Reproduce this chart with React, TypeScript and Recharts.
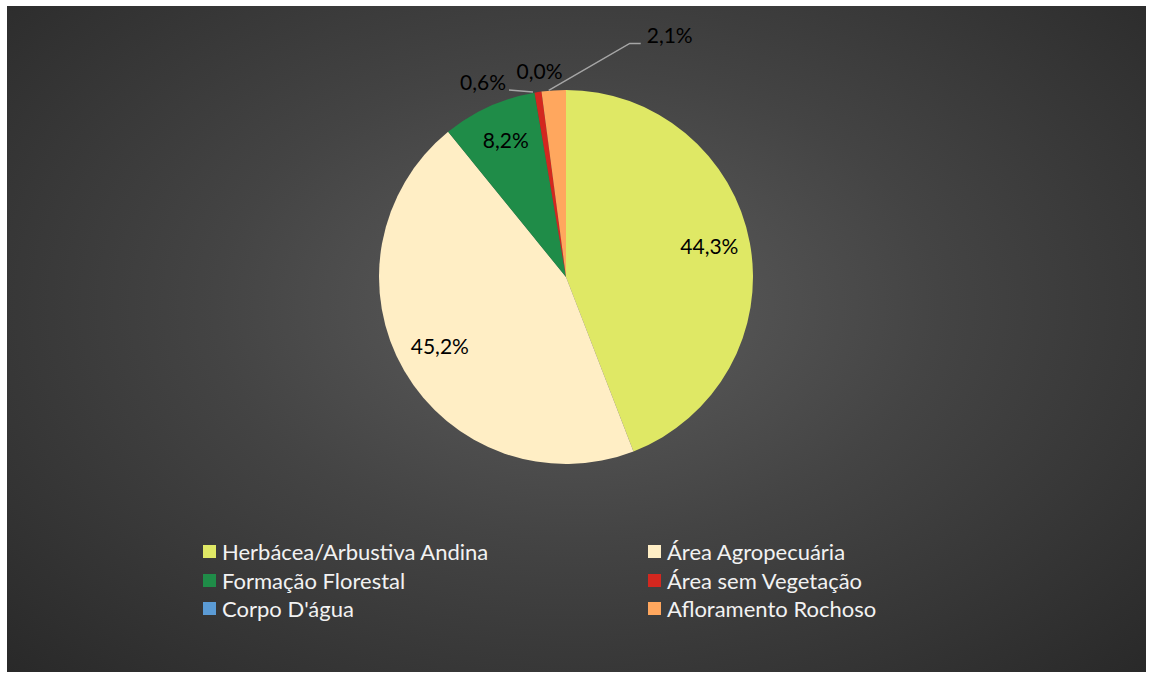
import { PieChart, Pie, Cell, Legend } from 'recharts';

// categories and their shares (%)
const categories = [
  'Herbácea/Arbustiva Andina',
  'Área Agropecuária',
  'Formação Florestal',
  'Área sem Vegetação',
  "Corpo D'água",
  'Afloramento Rochoso',
];
const shares = [44.3, 45.2, 8.2, 0.6, 0.0, 2.1];

const colors = ['#DFE865', '#FFEEC5', '#1F8C48', '#D3271F', '#5B9BD5', '#FFA75E'];

// outside label placement for the thin slices (offsets from the slice rim)
const outsideLabels: Record<string, { tx: number; ty: number; anchor: string; line?: number[][] }> = {
  'Área sem Vegetação': { tx: -32, ty: -11, anchor: 'end', line: [[-5, 0], [-29, -2]] },
  "Corpo D'água": { tx: -2, ty: -21, anchor: 'middle' },
  'Afloramento Rochoso': { tx: 93, ty: -56, anchor: 'start', line: [[-5, 0], [76, -47], [87, -47]] },
};

const chartData = categories.map((name, i) => ({ name, value: shares[i] }));

const FONT = 'Lato, "Open Sans", sans-serif';
const RAD = Math.PI / 180;

const fmt = (v: number) => v.toFixed(1).replace('.', ',') + '%';

const renderLabel = (props: any) => {
  const { cx, cy, midAngle, outerRadius, index } = props;
  const name = categories[index];
  const value = shares[index];
  const place = outsideLabels[name];
  if (!place) {
    const r = outerRadius * 0.78;
    const x = cx + r * Math.cos(midAngle * RAD);
    const y = cy - r * Math.sin(midAngle * RAD) - 5;
    return (
      <text key={`lbl-${index}`} x={x} y={y} textAnchor="middle" dominantBaseline="central"
        fill="#000" fontSize={21} fontFamily={FONT}>
        {fmt(value)}
      </text>
    );
  }
  const ox = cx + outerRadius * Math.cos(midAngle * RAD);
  const oy = cy - outerRadius * Math.sin(midAngle * RAD);
  return (
    <g key={`lbl-${index}`}>
      {place.line && (
        <polyline
          points={place.line.map(([dx, dy]) => `${ox + dx},${oy + dy}`).join(' ')}
          fill="none" stroke="#A6A6A6" strokeWidth={1.5}
        />
      )}
      <text x={ox + place.tx} y={oy + place.ty} textAnchor={place.anchor as any} dominantBaseline="central"
        fill="#000" fontSize={21} fontFamily={FONT}>
        {fmt(value)}
      </text>
    </g>
  );
};

const renderLegend = () => (
  <div style={{ display: 'grid', gridTemplateColumns: '445px 250px', rowGap: 7.5, fontFamily: FONT }}>
    {categories.map((name, i) => (
      <div key={`leg-${i}`} style={{ display: 'flex', alignItems: 'center', height: 21 }}>
        <span style={{ width: 13, height: 13, background: colors[i], marginRight: 6, display: 'inline-block', flexShrink: 0 }} />
        <span style={{ color: '#F2F2F2', fontSize: 22, whiteSpace: 'nowrap' }}>{name}</span>
      </div>
    ))}
  </div>
);

export default function App() {
  return (
    <div
      style={{
        position: 'absolute',
        left: 7,
        top: 6,
        width: 1139,
        height: 666,
        background: 'radial-gradient(ellipse at 50% 45%, #5E5E5E 0%, #444 45%, #292929 100%)',
      }}
    >
      <PieChart width={1139} height={666} margin={{ top: 0, right: 0, bottom: 0, left: 0 }}>
        <Pie
          data={chartData}
          dataKey="value"
          nameKey="name"
          cx={559}
          cy={271}
          outerRadius={187}
          startAngle={90}
          endAngle={-270}
          stroke="none"
          label={renderLabel}
          labelLine={false}
          isAnimationActive={false}
        >
          {chartData.map((entry, i) => (
            <Cell key={`cell-${entry.name}`} fill={colors[i]} />
          ))}
        </Pie>
        <Legend
          content={renderLegend}
          wrapperStyle={{ position: 'absolute', left: 196, top: 535, width: 720 }}
        />
      </PieChart>
    </div>
  );
}
